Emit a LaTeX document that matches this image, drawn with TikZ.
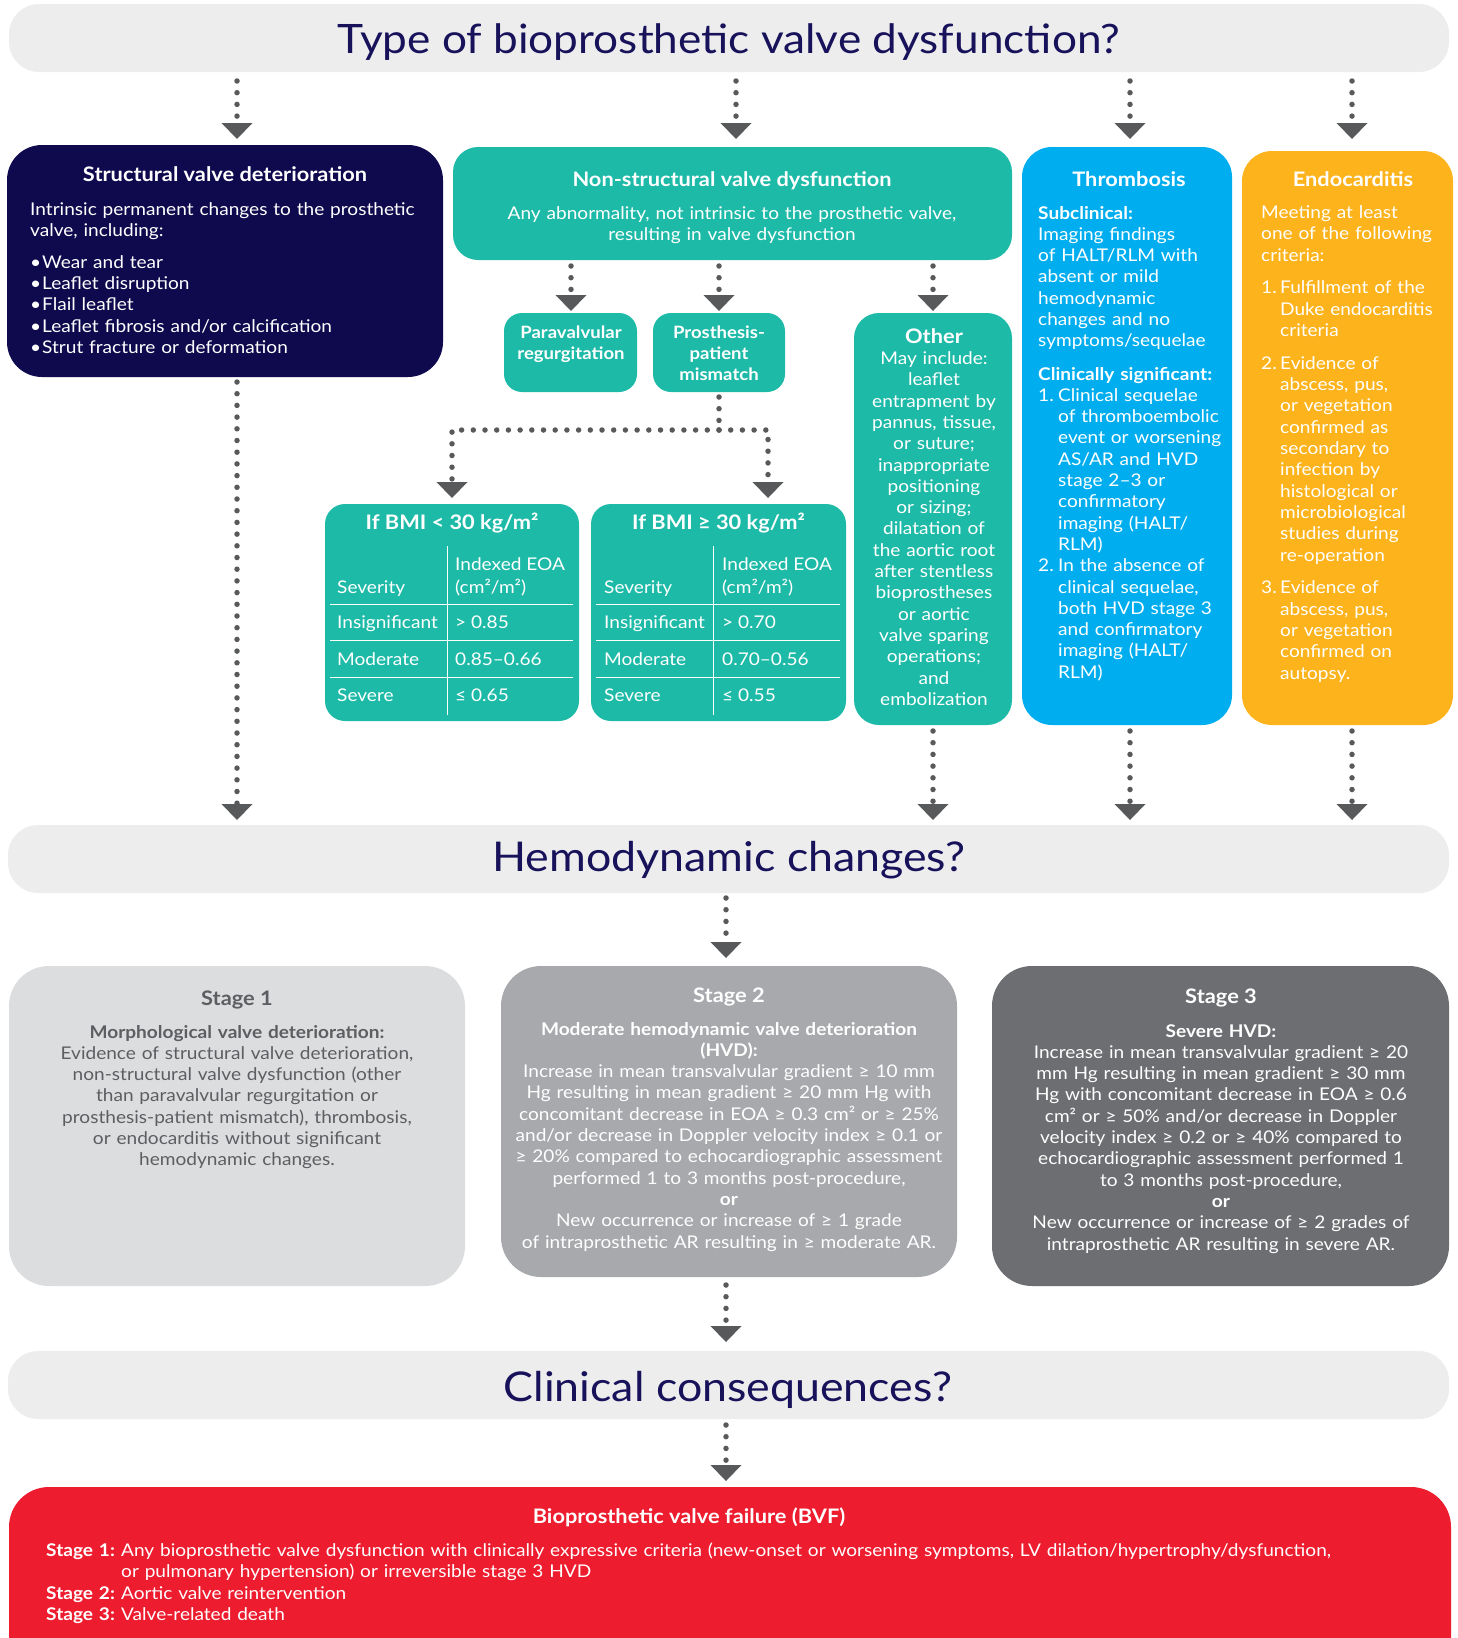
\documentclass[tikz,border=0pt]{standalone}
\usepackage{fontspec}
\setmainfont[FakeStretch=1.09]{Lato}
\usetikzlibrary{arrows.meta}
\definecolor{cnavy}{HTML}{0F0A4E}
\definecolor{ctitle}{HTML}{17125A}
\definecolor{cteal}{HTML}{1EBAA8}
\definecolor{cblue}{HTML}{00AEEF}
\definecolor{cendo}{HTML}{FDB31B}
\definecolor{cbar}{HTML}{EDEDEE}
\definecolor{carr}{HTML}{58595B}
\definecolor{cstA}{HTML}{DCDDDF}
\definecolor{cstAt}{HTML}{5D5E61}
\definecolor{cstB}{HTML}{A7A9AC}
\definecolor{cstC}{HTML}{6D6E71}
\definecolor{cred}{HTML}{ED1C2E}
\newcommand{\blt}{\makebox[12pt][l]{\textbullet}}
\newcommand{\lbl}[1]{\makebox[75pt][l]{\textbf{#1}}}
\begin{document}
\begin{tikzpicture}[x=1pt,y=-1pt,
  panel/.style={anchor=north west, inner sep=0pt, outer sep=0pt, draw=none},
  bigt/.style={anchor=base, inner sep=0pt, text=ctitle, font=\fontsize{41}{50}\selectfont},
  hd/.style={anchor=base, inner sep=0pt, font=\fontsize{20}{24}\selectfont\bfseries},
  txt/.style={inner sep=0pt, font=\fontsize{17.5}{21.3}\selectfont},
  ctxt/.style={txt, anchor=base, align=center, text width=600pt},
  ltxt/.style={txt, anchor=base west, align=left, text width=600pt},
  cell/.style={txt, anchor=base west, text=white},
  tline/.style={draw=white, line width=1pt},
  conn/.style={draw=carr, line width=5.5pt, line cap=round, dash pattern=on 0pt off 11.7pt,
    -{Triangle[width=31pt,length=16pt,line width=0pt]}},
  connline/.style={draw=carr, line width=5.5pt, line cap=round, dash pattern=on 0pt off 11.7pt}
]
\useasboundingbox (0,0) rectangle (1457,1638);

% ---------- title bars ----------
\node[panel, fill=cbar, rounded corners=30pt, minimum width=1440pt, minimum height=68pt] (bar1) at (9,4) {};
\node[bigt, font=\fontsize{40.5}{50}\selectfont] (t1) at (729,53) {Type of bioprosthetic valve dysfunction?};
\node[panel, fill=cbar, rounded corners=30pt, minimum width=1441pt, minimum height=68pt] (hemo) at (8,825) {};
\node[bigt] (t2) at (729,871) {Hemodynamic changes?};
\node[panel, fill=cbar, rounded corners=30pt, minimum width=1441pt, minimum height=68pt] (clin) at (8,1351) {};
\node[bigt] (t3) at (728,1401) {Clinical consequences?};

% ---------- structural ----------
\node[panel, fill=cnavy, rounded corners=35pt, minimum width=436pt, minimum height=232pt] (svd) at (7,145) {};
\node[hd, text=white] (svdT) at (225,181) {Structural valve deterioration};
\node[ltxt, text=white] (svdB) at (30,215.5) {Intrinsic permanent changes to the prosthetic\\valve, including:\\[10pt]\blt Wear and tear\\\blt Leaflet disruption\\\blt Flail leaflet\\\blt Leaflet fibrosis and/or calcification\\\blt Strut fracture or deformation};

% ---------- non-structural ----------
\node[panel, fill=cteal, rounded corners=25pt, minimum width=559pt, minimum height=113pt] (nsvd) at (453,147) {};
\node[hd, text=white] (nsvdT) at (732,186) {Non-structural valve dysfunction};
\node[ctxt, text=white] (nsvdB) at (732,219) {Any abnormality, not intrinsic to the prosthetic valve,\\resulting in valve dysfunction};

\node[panel, fill=cteal, rounded corners=18pt, minimum width=133pt, minimum height=79pt] (para) at (504,313) {};
\node[ctxt, text=white, font=\fontsize{17}{21}\selectfont\bfseries] (paraT) at (571,338) {Paravalvular\\regurgitation};
\node[panel, fill=cteal, rounded corners=18pt, minimum width=132pt, minimum height=79pt] (ppm) at (653,313) {};
\node[ctxt, text=white, font=\fontsize{17}{21}\selectfont\bfseries] (ppmT) at (719,338) {Prosthesis-\\patient\\mismatch};

\node[panel, fill=cteal, rounded corners=25pt, minimum width=158pt, minimum height=412pt] (other) at (854,313) {};
\node[hd, text=white] (otherT) at (934,343.5) {Other};
\node[ctxt, text=white] (otherB) at (934,364.5) {May include:\\leaflet\\entrapment by\\pannus, tissue,\\or suture;\\inappropriate\\positioning\\or sizing;\\dilatation of\\the aortic root\\after stentless\\bioprostheses\\or aortic\\valve sparing\\operations;\\and\\embolization};

% ---------- BMI tables ----------
\node[panel, fill=cteal, rounded corners=20pt, minimum width=254pt, minimum height=217pt] (bmiL) at (325,504) {};
\node[hd, text=white] (bmiLT) at (452,529) {If BMI < 30 kg/m²};
\draw[tline] (447,546) -- (447,715);
\draw[tline] (330,604) -- (573,604);
\draw[tline] (330,640) -- (573,640);
\draw[tline] (330,677) -- (573,677);
\node[cell] (lc1) at (337,593.5) {Severity};
\node[cell] (lc2) at (455,570.5) {Indexed EOA};
\node[cell] (lc3) at (455,593.5) {(cm²/m²)};
\node[cell] (lc4) at (337,628.5) {Insignificant};
\node[cell] (lc5) at (455,628.5) {> 0.85};
\node[cell] (lc6) at (337,665.5) {Moderate};
\node[cell] (lc7) at (455,665.5) {0.85–0.66};
\node[cell] (lc8) at (337,701.5) {Severe};
\node[cell] (lc9) at (455,701.5) {≤ 0.65};

\node[panel, fill=cteal, rounded corners=20pt, minimum width=255pt, minimum height=217pt] (bmiR) at (591,504) {};
\node[hd, text=white] (bmiRT) at (718.5,529) {If BMI ≥ 30 kg/m²};
\draw[tline] (713,546) -- (713,715);
\draw[tline] (596,604) -- (840,604);
\draw[tline] (596,640) -- (840,640);
\draw[tline] (596,677) -- (840,677);
\node[cell] (rc1) at (604,593.5) {Severity};
\node[cell] (rc2) at (722,570.5) {Indexed EOA};
\node[cell] (rc3) at (722,593.5) {(cm²/m²)};
\node[cell] (rc4) at (604,628.5) {Insignificant};
\node[cell] (rc5) at (722,628.5) {> 0.70};
\node[cell] (rc6) at (604,665.5) {Moderate};
\node[cell] (rc7) at (722,665.5) {0.70–0.56};
\node[cell] (rc8) at (604,701.5) {Severe};
\node[cell] (rc9) at (722,701.5) {≤ 0.55};

% ---------- thrombosis ----------
\node[panel, fill=cblue, rounded corners=30pt, minimum width=210pt, minimum height=578pt] (thr) at (1022,147) {};
\node[hd, text=white] (thrT) at (1129,186) {Thrombosis};
\node[ltxt, text=white] (thrB) at (1038,219) {\textbf{Subclinical:}\\Imaging findings\\of HALT/RLM with\\absent or mild\\hemodynamic\\changes and no\\symptoms/sequelae\\[11.9pt]\textbf{Clinically significant:}\\\makebox[20pt][l]{1.}Clinical sequelae\\\hspace*{20pt}of thromboembolic\\\hspace*{20pt}event or worsening\\\hspace*{20pt}AS/AR and HVD\\\hspace*{20pt}stage 2–3 or\\\hspace*{20pt}confirmatory\\\hspace*{20pt}imaging (HALT/\\\hspace*{20pt}RLM)\\\makebox[20pt][l]{2.}In the absence of\\\hspace*{20pt}clinical sequelae,\\\hspace*{20pt}both HVD stage 3\\\hspace*{20pt}and confirmatory\\\hspace*{20pt}imaging (HALT/\\\hspace*{20pt}RLM)};

% ---------- endocarditis ----------
\node[panel, fill=cendo, rounded corners=30pt, minimum width=211pt, minimum height=574pt] (endo) at (1242,151) {};
\node[hd, text=white] (endoT) at (1353,186) {Endocarditis};
\node[ltxt, text=white] (endoB) at (1261,218.5) {Meeting at least\\one of the following\\criteria:\\[11.5pt]\makebox[19pt][l]{1.}Fulfillment of the\\\hspace*{19pt}Duke endocarditis\\\hspace*{19pt}criteria\\[11.5pt]\makebox[19pt][l]{2.}Evidence of\\\hspace*{19pt}abscess, pus,\\\hspace*{19pt}or vegetation\\\hspace*{19pt}confirmed as\\\hspace*{19pt}secondary to\\\hspace*{19pt}infection by\\\hspace*{19pt}histological or\\\hspace*{19pt}microbiological\\\hspace*{19pt}studies during\\\hspace*{19pt}re-operation\\[11.5pt]\makebox[19pt][l]{3.}Evidence of\\\hspace*{19pt}abscess, pus,\\\hspace*{19pt}or vegetation\\\hspace*{19pt}confirmed on\\\hspace*{19pt}autopsy.};

% ---------- stages ----------
\node[panel, fill=cstA, rounded corners=40pt, minimum width=456pt, minimum height=320pt] (s1) at (9,966) {};
\node[hd, text=cstAt] (s1T) at (237,1005) {Stage 1};
\node[ctxt, text=cstAt] (s1B) at (237,1038) {\textbf{Morphological valve deterioration:}\\Evidence of structural valve deterioration,\\non-structural valve dysfunction (other\\than paravalvular regurgitation or\\prosthesis-patient mismatch), thrombosis,\\or endocarditis without significant\\hemodynamic changes.};

\node[panel, fill=cstB, rounded corners=40pt, minimum width=456pt, minimum height=311pt] (s2) at (501,966) {};
\node[hd, text=white] (s2T) at (729,1002) {Stage 2};
\node[ctxt, text=white] (s2B) at (729,1035) {\textbf{Moderate hemodynamic valve deterioration}\\\textbf{(HVD):}\\Increase in mean transvalvular gradient ≥ 10 mm\\Hg resulting in mean gradient ≥ 20 mm Hg with\\concomitant decrease in EOA ≥ 0.3 cm² or ≥ 25\%\\and/or decrease in Doppler velocity index ≥ 0.1 or\\≥ 20\% compared to echocardiographic assessment\\performed 1 to 3 months post-procedure,\\\textbf{or}\\New occurrence or increase of ≥ 1 grade\\of intraprosthetic AR resulting in ≥ moderate AR.};

\node[panel, fill=cstC, rounded corners=40pt, minimum width=457pt, minimum height=320pt] (s3) at (992,966) {};
\node[hd, text=white] (s3T) at (1221,1003) {Stage 3};
\node[ctxt, text=white] (s3B) at (1221,1037) {\textbf{Severe HVD:}\\Increase in mean transvalvular gradient ≥ 20\\mm Hg resulting in mean gradient ≥ 30 mm\\Hg with concomitant decrease in EOA ≥ 0.6\\cm² or ≥ 50\% and/or decrease in Doppler\\velocity index ≥ 0.2 or ≥ 40\% compared to\\echocardiographic assessment performed 1\\to 3 months post-procedure,\\\textbf{or}\\New occurrence or increase of ≥ 2 grades of\\intraprosthetic AR resulting in severe AR.};

% ---------- BVF ----------
\begin{scope}
\clip (0,0) rectangle (1457,1638);
\node[panel, fill=cred, rounded corners=40pt, minimum width=1442pt, minimum height=250pt] (bvf) at (9,1487) {};
\end{scope}
\node[hd, text=white, font=\fontsize{20}{24}\selectfont\bfseries] (bvfT) at (689,1523) {Bioprosthetic valve failure (BVF)};
\node[ltxt, text=white, text width=1420pt] (bvfB) at (46,1556.5) {\lbl{Stage 1:}Any bioprosthetic valve dysfunction with clinically expressive criteria (new-onset or worsening symptoms, LV dilation/hypertrophy/dysfunction,\\\hspace*{75pt}or pulmonary hypertension) or irreversible stage 3 HVD\\\lbl{Stage 2:}Aortic valve reintervention\\\lbl{Stage 3:}Valve-related death};

% ---------- connectors ----------
\coordinate (xa) at (237,0);
\coordinate (xb) at (736,0);
\coordinate (xc) at (1130,0);
\coordinate (xd) at (1352,0);
\coordinate (xp) at (571,0);
\coordinate (xr) at (768,0);
\coordinate (xm) at (726,0);
\coordinate (split) at (719,430);

\draw[conn, shorten <=9pt, shorten >=6pt] (bar1.south -| xa) -- (svd.north -| xa);
\draw[conn, shorten <=9pt, shorten >=8pt] (bar1.south -| xb) -- (nsvd.north -| xb);
\draw[conn, shorten <=9pt, shorten >=8pt] (bar1.south -| xc) -- (thr.north -| xc);
\draw[conn, shorten <=9pt, shorten >=12pt] (bar1.south -| xd) -- (endo.north -| xd);

\draw[conn, shorten <=6pt, shorten >=2pt] (nsvd.south -| xp) -- (para.north -| xp);
\draw[conn, shorten <=6pt, shorten >=2pt] (nsvd.south -| ppm.north) -- (ppm.north);
\draw[conn, shorten <=6pt, shorten >=2pt] (nsvd.south -| other.north) -- (other.north);

\draw[connline, shorten <=5pt] (ppm.south) -- (split);
\draw[conn, shorten >=6pt] (split) -| (bmiL.north);
\draw[conn, shorten >=6pt] (split) -| (bmiR.north -| xr);

\draw[conn, shorten <=5pt, shorten >=5pt] (svd.south -| xa) -- (hemo.north -| xa);
\draw[conn, shorten <=6pt, shorten >=5pt] (other.south) -- (hemo.north -| other.south);
\draw[conn, shorten <=6pt, shorten >=5pt] (thr.south -| xc) -- (hemo.north -| xc);
\draw[conn, shorten <=6pt, shorten >=5pt] (endo.south -| xd) -- (hemo.north -| xd);

\draw[conn, shorten <=5pt, shorten >=8pt] (hemo.south -| xm) -- (s2.north -| xm);
\draw[conn, shorten <=8pt, shorten >=9pt] (s2.south -| xm) -- (clin.north -| xm);
\draw[conn, shorten <=6pt, shorten >=6pt] (clin.south -| xm) -- (bvf.north -| xm);
\end{tikzpicture}
\end{document}
